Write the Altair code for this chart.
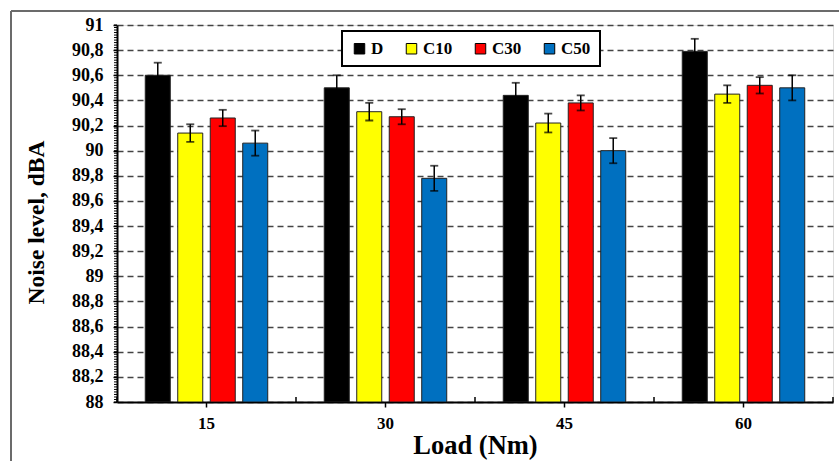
import altair as alt
import pandas as pd

loads = ["15", "30", "45", "60"]
series = ["D", "C10", "C30", "C50"]
colors = ["#000000", "#FFFF00", "#FF0000", "#0070C0"]
values = {
    "D":   [90.60, 90.50, 90.44, 90.79],
    "C10": [90.14, 90.31, 90.22, 90.45],
    "C30": [90.26, 90.27, 90.38, 90.52],
    "C50": [90.06, 89.78, 90.00, 90.50],
}
errors = {
    "D":   [0.10, 0.10, 0.10, 0.10],
    "C10": [0.07, 0.07, 0.075, 0.07],
    "C30": [0.065, 0.06, 0.06, 0.065],
    "C50": [0.10, 0.10, 0.10, 0.10],
}
y_major = [round(88 + 0.2 * i, 1) for i in range(16)]
y_minor = [round(88 + 0.02 * i, 2) for i in range(151)]
boundaries = [0, 1, 2, 3, 4]

rows = []
for s in series:
    for i, l in enumerate(loads):
        v = values[s][i]
        e = errors[s][i]
        rows.append({"Load": l, "Series": s, "Value": v, "Lo": v - e, "Hi": v + e})
df = pd.DataFrame(rows)

FONT = "Liberation Serif"
ymin, ymax = 88, 91

xscale = alt.Scale(domain=loads, paddingInner=0.274, paddingOuter=0.137)
xoff = alt.XOffset("Series:N", sort=series,
                   scale=alt.Scale(domain=series, paddingInner=0.23, paddingOuter=0.115))
yscale = alt.Scale(domain=[ymin, ymax], nice=False, zero=False)

xaxis = alt.Axis(title="Load (Nm)", labelAngle=0, labelFont=FONT, labelFontSize=17,
                 labelFontWeight="bold", labelColor="black", labelPadding=8,
                 titleFont=FONT, titleFontSize=26.5, titleFontWeight="bold",
                 titleColor="black", titleY=51, titleBaseline="alphabetic",
                 domainColor="black", domainWidth=2, tickColor="black",
                 tickWidth=1.5, tickSize=5, grid=False)
yaxis = alt.Axis(title="Noise level, dBA", values=y_major, labelOverlap=False,
                 labelExpr="replace(format(datum.value, '.1~f'), '.', ',')",
                 labelFont=FONT, labelFontSize=18, labelFontWeight="bold",
                 labelColor="black", labelPadding=10,
                 titleFont=FONT, titleFontSize=23.5, titleFontWeight="bold",
                 titleColor="black", titleX=-81, titleY=197,
                 titleBaseline="middle", titleAlign="center", titleAngle=270,
                 domainColor="black", domainWidth=2, tickColor="black",
                 tickSize=4, tickWidth=1.5,
                 grid=True, gridColor="#444444", gridDash=[6, 4], gridWidth=1.3)

X = alt.X("Load:N", scale=xscale, sort=loads, axis=xaxis)

base = alt.Chart(df)

bars = base.mark_bar(stroke="#222222", strokeWidth=1, clip=True).encode(
    x=X,
    xOffset=xoff,
    y=alt.Y("Value:Q", scale=yscale, axis=yaxis),
    y2=alt.datum(ymin),
    color=alt.Color("Series:N", sort=series,
                    scale=alt.Scale(domain=series, range=colors),
                    legend=alt.Legend(title=None, orient="none", direction="horizontal",
                                      legendX=225, legendY=6, fillColor="white",
                                      strokeColor="black", padding=9,
                                      columnPadding=19, symbolType="square",
                                      symbolSize=110, symbolStrokeColor="black",
                                      symbolStrokeWidth=1, labelFont=FONT,
                                      labelFontSize=17, labelFontWeight="bold",
                                      labelColor="black", labelOffset=3)),
)

err = base.mark_rule(color="black", strokeWidth=1.5).encode(
    x=X, xOffset=xoff,
    y=alt.Y("Lo:Q", scale=yscale, axis=yaxis),
    y2="Hi:Q",
)
cap_hi = base.mark_tick(color="black", thickness=1.8, size=8).encode(
    x=X, xOffset=xoff,
    y=alt.Y("Hi:Q", scale=yscale, axis=yaxis))
cap_lo = base.mark_tick(color="black", thickness=1.8, size=8).encode(
    x=X, xOffset=xoff,
    y=alt.Y("Lo:Q", scale=yscale, axis=yaxis))

minor = alt.Chart(pd.DataFrame({"v": y_minor})).mark_rule(color="black", strokeWidth=1).encode(
    y=alt.Y("v:Q", scale=yscale, axis=yaxis),
    x=alt.value(-3), x2=alt.value(0),
)

inner_ticks = alt.Chart(pd.DataFrame({"b": boundaries})).mark_rule(color="black", strokeWidth=1.5).encode(
    x=alt.X("b:Q", scale=alt.Scale(domain=[0, 4], nice=False), axis=None),
    y=alt.value(377), y2=alt.value(372),
)

frame_top = alt.Chart(pd.DataFrame({"k": [0]})).mark_rule(color="#6b6b6b", strokeWidth=2).encode(
    x=alt.value(-106), x2=alt.value(730), y=alt.value(-14))
frame_left = alt.Chart(pd.DataFrame({"k": [0]})).mark_rule(color="#6b6b6b", strokeWidth=2).encode(
    x=alt.value(-106), y=alt.value(-14), y2=alt.value(445))

main = alt.layer(bars, err, cap_hi, cap_lo, minor)
chart = alt.layer(main, inner_ticks, frame_top, frame_left).resolve_scale(x="independent").properties(
    width=716, height=377,
    autosize=alt.AutoSizeParams(type="none"),
    padding={"left": 117, "top": 25, "right": 6, "bottom": 59},
).configure_view(stroke=None).configure(background="white").configure_legend(strokeWidth=2)

chart.save("out.html", embed_options={"renderer": "svg", "actions": False})
